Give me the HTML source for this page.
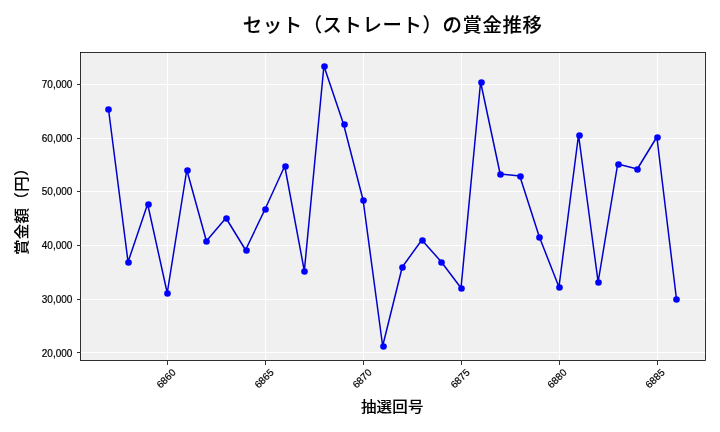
<!DOCTYPE html>
<html lang="ja"><head><meta charset="utf-8"><title>セット（ストレート）の賞金推移</title>
<style>html,body{margin:0;padding:0;background:#fff;overflow:hidden}svg{display:block}text{font-family:"Liberation Sans", "Noto Sans CJK JP", sans-serif;fill:#000}.t{stroke:#000;stroke-width:.2px}.j{font-weight:500;stroke:#000;stroke-width:.1px}</style></head><body>
<svg width="720" height="432" viewBox="0 0 720 432">
<rect width="720" height="432" fill="#fff"/>
<rect x="80" y="52" width="626" height="309" fill="#f0f0f0"/>
<path d="M167.5 52V361M265.5 52V361M363.5 52V361M461.5 52V361M559.5 52V361M657.5 52V361M80 352.5H706M80 299.5H706M80 245.5H706M80 191.5H706M80 138.5H706M80 84.5H706" stroke="#fff" stroke-width="1" fill="none"/>
<polyline points="108.47,109.00 128.06,262.00 147.64,204.00 167.23,293.00 186.81,170.00 206.40,241.00 225.98,218.00 245.57,250.00 265.16,209.00 284.74,166.00 304.33,271.00 323.91,66.00 343.50,124.00 363.09,200.00 382.67,346.00 402.26,267.00 421.84,240.00 441.43,262.00 461.02,288.00 480.60,82.00 500.19,174.00 519.77,176.00 539.36,237.00 558.95,287.00 578.53,135.00 598.12,282.00 617.70,164.00 637.29,169.00 656.87,137.00 676.46,299.00" fill="none" stroke="#0000cd" stroke-width="1.5" stroke-linejoin="round"/>
<g fill="#0000ff">
<circle cx="108.5" cy="109.5" r="3.3"/>
<circle cx="128.5" cy="262.5" r="3.3"/>
<circle cx="148.5" cy="204.5" r="3.3"/>
<circle cx="167.5" cy="293.5" r="3.3"/>
<circle cx="187.5" cy="170.5" r="3.3"/>
<circle cx="206.5" cy="241.5" r="3.3"/>
<circle cx="226.5" cy="218.5" r="3.3"/>
<circle cx="246.5" cy="250.5" r="3.3"/>
<circle cx="265.5" cy="209.5" r="3.3"/>
<circle cx="285.5" cy="166.5" r="3.3"/>
<circle cx="304.5" cy="271.5" r="3.3"/>
<circle cx="324.5" cy="66.5" r="3.3"/>
<circle cx="344.5" cy="124.5" r="3.3"/>
<circle cx="363.5" cy="200.5" r="3.3"/>
<circle cx="383.5" cy="346.5" r="3.3"/>
<circle cx="402.5" cy="267.5" r="3.3"/>
<circle cx="422.5" cy="240.5" r="3.3"/>
<circle cx="441.5" cy="262.5" r="3.3"/>
<circle cx="461.5" cy="288.5" r="3.3"/>
<circle cx="481.5" cy="82.5" r="3.3"/>
<circle cx="500.5" cy="174.5" r="3.3"/>
<circle cx="520.5" cy="176.5" r="3.3"/>
<circle cx="539.5" cy="237.5" r="3.3"/>
<circle cx="559.5" cy="287.5" r="3.3"/>
<circle cx="579.5" cy="135.5" r="3.3"/>
<circle cx="598.5" cy="282.5" r="3.3"/>
<circle cx="618.5" cy="164.5" r="3.3"/>
<circle cx="637.5" cy="169.5" r="3.3"/>
<circle cx="657.5" cy="137.5" r="3.3"/>
<circle cx="676.5" cy="299.5" r="3.3"/>
</g>
<path d="M167.5 361V365M265.5 361V365M363.5 361V365M461.5 361V365M559.5 361V365M657.5 361V365M77 352.5H80M77 299.5H80M77 245.5H80M77 191.5H80M77 138.5H80M77 84.5H80" stroke="#000" stroke-width="0.8" fill="none"/>
<rect x="80.5" y="52.5" width="625" height="308" fill="none" stroke="#000" stroke-width="0.8"/>
<text class="t" x="72.4" y="356.9" font-size="10" text-anchor="end">20,000</text>
<text class="t" x="72.4" y="302.9" font-size="10" text-anchor="end">30,000</text>
<text class="t" x="72.4" y="248.9" font-size="10" text-anchor="end">40,000</text>
<text class="t" x="72.4" y="194.9" font-size="10" text-anchor="end">50,000</text>
<text class="t" x="72.4" y="141.9" font-size="10" text-anchor="end">60,000</text>
<text class="t" x="72.4" y="87.9" font-size="10" text-anchor="end">70,000</text>
<text class="t" transform="translate(166.0 378.4) rotate(-45)" font-size="10" text-anchor="middle" y="3.6">6860</text>
<text class="t" transform="translate(264.0 378.4) rotate(-45)" font-size="10" text-anchor="middle" y="3.6">6865</text>
<text class="t" transform="translate(362.0 378.4) rotate(-45)" font-size="10" text-anchor="middle" y="3.6">6870</text>
<text class="t" transform="translate(460.0 378.4) rotate(-45)" font-size="10" text-anchor="middle" y="3.6">6875</text>
<text class="t" transform="translate(556.9 378.4) rotate(-45)" font-size="10" text-anchor="middle" y="3.6">6880</text>
<text class="t" transform="translate(654.9 378.4) rotate(-45)" font-size="10" text-anchor="middle" y="3.6">6885</text>
<text class="j" transform="translate(392.3 411.8) scale(1 0.925)" font-size="15.5" letter-spacing="0.2" text-anchor="middle">抽選回号</text>
<text class="j" transform="translate(27.2 207.6) rotate(-90) scale(1 0.95)" font-size="15.5" letter-spacing="0.3" text-anchor="middle">賞金額（円）</text>
<text class="j" x="392.6" y="32.3" font-size="19.4" letter-spacing="0.6" text-anchor="middle">セット（ストレート）の賞金推移</text>
</svg></body></html>
